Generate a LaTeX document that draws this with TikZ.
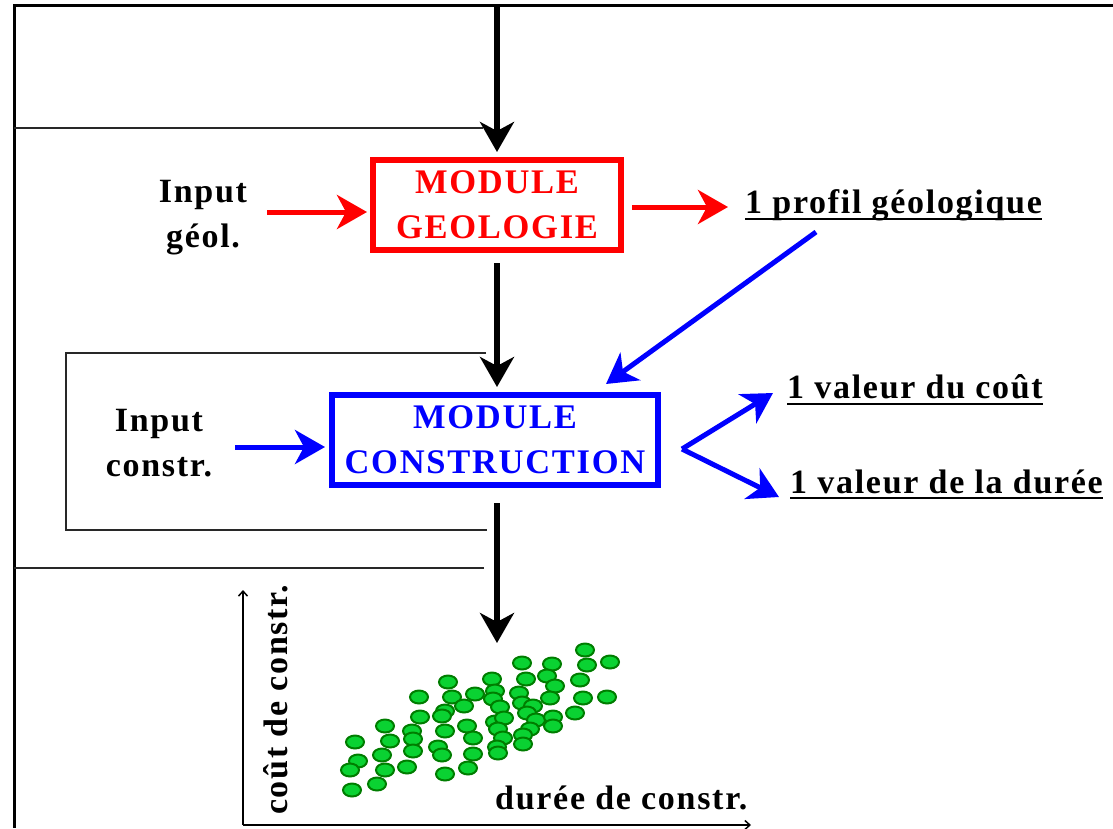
\documentclass[tikz,border=0pt]{standalone}
\usepackage{fontspec}
\setmainfont{Liberation Serif}[LetterSpace=5]
\usetikzlibrary{arrows.meta}
\definecolor{dotfill}{RGB}{10,210,50}
\definecolor{dotedge}{RGB}{0,125,0}
\definecolor{loopline}{RGB}{40,40,40}
\begin{document}
\begin{tikzpicture}[x=1pt,y=-1pt,
  lbl/.style={font=\fontsize{34}{45}\selectfont\bfseries, inner sep=0pt},
  modbox/.style={line width=6pt, inner sep=0pt, align=center, minimum height=90pt,
    font=\fontsize{34.5}{45}\selectfont\bfseries},
  bigtip/.style={-{Stealth[length=30pt 0 0,width=34pt 0 0,inset=9pt 0 0]}},
  blackarrow/.style={bigtip, line width=6pt, black},
  redarrow/.style={bigtip, line width=5pt, red},
  bluearrow/.style={bigtip, line width=5pt, blue},
  frameline/.style={line width=3pt, black},
  loop/.style={line width=2pt, loopline},
  axis/.style={line width=1.5pt, -{Straight Barb[length=5pt,width=9pt]}},
  uline/.style={line width=2pt, black},
  dot/.style={fill=dotfill, draw=dotedge, line width=2pt}
]
\useasboundingbox (0,0) rectangle (1113,828);

% frame and feedback loops
\draw[frameline] (1113,5) -- (14,5) -- (14,828);
\draw[loop] (483,128) -- (14,128);
\draw[loop] (484,568) -- (14,568);
\draw[loop] (486,353) -- (66,353) -- (66,530) -- (487,530);

% modules
\node[modbox, draw=red, text=red, minimum width=248pt] (modgeo) at (497,205) {MODULE\\GEOLOGIE};
\node[modbox, draw=blue, text=blue, minimum width=326pt] (modcon) at (495,440) {MODULE\\CONSTRUCTION};

% inputs
\node[lbl, align=center] (ingeo) at (203,217.5) {Input\\géol.};
\node[lbl, align=center] (incon) at (159,443) {Input\\constr.};

% outputs
\node[lbl, anchor=base west] (prof) at (745,213) {1 profil géologique};
\node[lbl, anchor=base west] (cout) at (787,398) {1 valeur du coût};
\node[lbl, anchor=base west] (duree) at (790,493) {1 valeur de la durée};
\draw[uline] ([yshift=-6pt]prof.base west) -- ([yshift=-6pt]prof.base east);
\draw[uline] ([yshift=-6pt]cout.base west) -- ([yshift=-6pt]cout.base east);
\draw[uline] ([yshift=-5pt]duree.base west) -- ([yshift=-5pt]duree.base east);

% black flow arrows
\coordinate (topin) at (497,5);
\coordinate (conin) at (modgeo.south |- modcon.north);
\coordinate (conout) at (modgeo.south |- modcon.south);
\coordinate (scat) at (497,643);
\draw[blackarrow] (topin) -- ([yshift=5pt]modgeo.north);
\draw[blackarrow] ([yshift=-10pt]modgeo.south) -- ([yshift=5pt]conin);
\draw[blackarrow] ([yshift=-15pt]conout) -- (scat);

% red arrows
\draw[redarrow] ([shift={(20,-5.5)}]ingeo.east) -- ([shift={(-3,7)}]modgeo.west);
\draw[redarrow] ([shift={(8,2)}]modgeo.east) -- ([shift={(-17,-6)}]prof.base west);

% blue arrows
\draw[bluearrow] ([shift={(23,4)}]incon.east) -- ([shift={(-4,7)}]modcon.west);
\draw[bluearrow] ([shift={(71,19)}]prof.base west) -- ([shift={(-55,-8)}]modcon.north east);
\coordinate (fork) at (682,449);
\draw[bluearrow] (fork) -- ([shift={(-14,-5)}]cout.base west);
\draw[bluearrow] (fork) -- ([shift={(-11,4)}]duree.base west);

% scatter plot
\coordinate (origin) at (243,825);
\draw[axis] (origin) -- (243,590);
\draw[axis] (origin) -- (751,825);
\node[lbl, rotate=90, anchor=base west] (ylab) at (287,815) {coût de constr.};
\node[lbl, anchor=base west] (xlab) at (495,809) {durée de constr.};

\foreach \px/\py in {585/650, 522/663, 552/664, 587/665, 610/662,
  448/682, 492/679, 526/679, 547/676, 555/686, 580/680,
  419/697, 452/697, 475/694, 495/691, 493/699, 519/693, 550/698, 583/698, 607/697,
  464/706, 500/707, 522/703, 533/706, 445/711,
  420/717, 442/716, 527/713, 536/720, 553/717, 575/713, 495/722, 504/718,
  385/726, 467/726, 498/729, 553/726, 530/729,
  412/731, 445/731, 523/735, 413/739, 473/738, 503/738, 390/741, 355/742,
  497/747, 523/744, 438/747, 473/754, 413/751, 498/753, 382/755, 442/755,
  358/761, 385/770, 350/770, 407/767, 468/768, 445/774,
  377/784, 352/790}
  \draw[dot] (\px,\py) ellipse [x radius=9, y radius=6.5];
\end{tikzpicture}
\end{document}
